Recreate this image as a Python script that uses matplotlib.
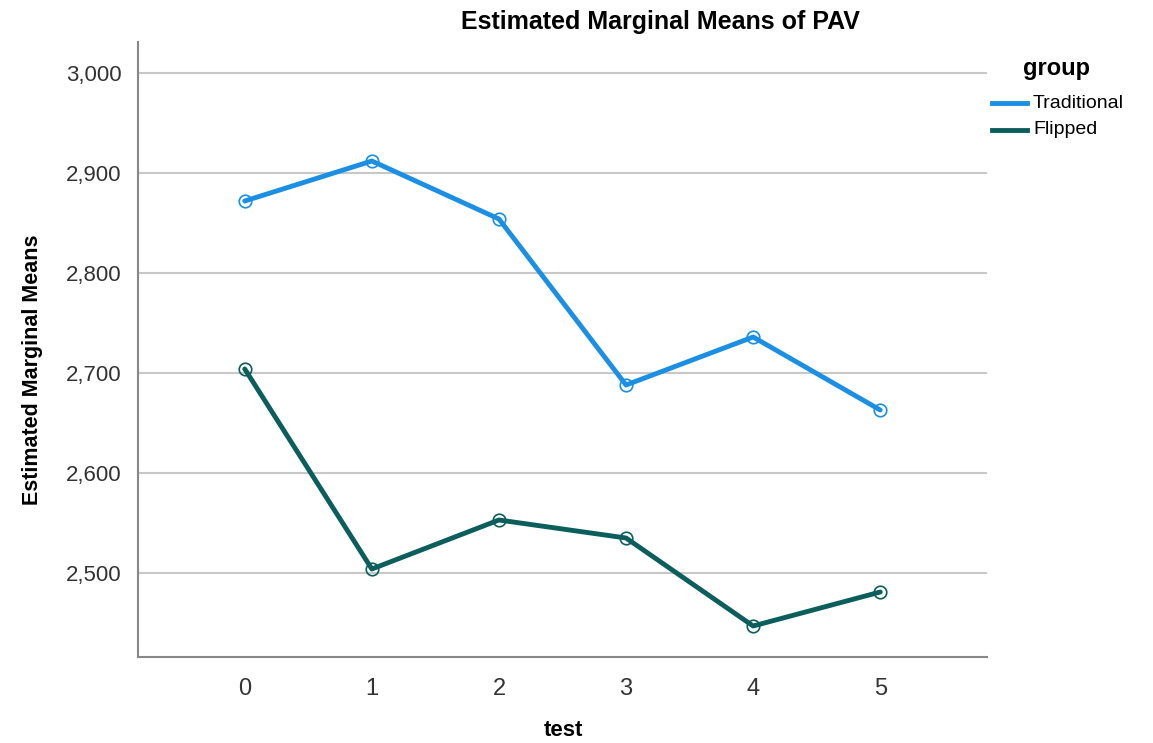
import matplotlib
matplotlib.use("Agg")
import matplotlib.pyplot as plt
from matplotlib.ticker import FuncFormatter

tests = [0, 1, 2, 3, 4, 5]
traditional = [2872, 2912, 2854, 2688, 2736, 2663]
flipped = [2704, 2504, 2553, 2535, 2447, 2481]
series_names = ["Traditional", "Flipped"]
y_ticks = [2500, 2600, 2700, 2800, 2900, 3000]

plt.rcParams["font.family"] = ["Liberation Sans", "DejaVu Sans"]

BLUE = "#1b8fe3"
TEAL = "#0b5e5b"

fig = plt.figure(figsize=(11.53, 7.43), dpi=100)
ax = fig.add_axes([138 / 1153, 1 - 657 / 743, (987 - 138) / 1153, (657 - 42) / 743])

for vals, color, name in zip([traditional, flipped], [BLUE, TEAL], series_names):
    ax.plot(tests, vals, color=color, lw=3.5, marker="o", ms=9,
            mfc="none", mec=color, mew=1.2, label=name,
            solid_capstyle="round")

ax.set_xlim(-0.84, 5.84)
ax.set_ylim(2416, 3031)
ax.set_xticks(tests)
ax.set_yticks(y_ticks)
ax.yaxis.set_major_formatter(FuncFormatter(lambda v, p: f"{int(v):,}"))
ax.tick_params(length=0, labelsize=16, colors="#333333", pad=12)
ax.tick_params(axis="x", labelsize=17, pad=15)
ax.grid(axis="y", color="#c8c8c8", lw=1.5)
ax.set_axisbelow(True)
for s in ["top", "right"]:
    ax.spines[s].set_visible(False)
for s in ["left", "bottom"]:
    ax.spines[s].set_color("#888888")
    ax.spines[s].set_linewidth(1.5)

fig.text(660 / 1153, 1 - 22 / 743, "Estimated Marginal Means of PAV",
         ha="center", va="center", fontsize=18, fontweight="bold")
fig.text(563 / 1153, 1 - 731 / 743, "test", ha="center", va="center",
         fontsize=16, fontweight="bold")
fig.text(33 / 1153, 1 - 370 / 743, "Estimated Marginal Means", ha="center",
         va="center", rotation=90, fontsize=15.5, fontweight="bold")

fig.text(1057 / 1153, 1 - 68 / 743, "group", ha="center", va="center",
         fontsize=17, fontweight="bold")
for i, (name, color) in enumerate(zip(series_names, [BLUE, TEAL])):
    y = 1 - (103 + 27 * i) / 743
    fig.add_artist(plt.Line2D([992 / 1153, 1027 / 1153], [y, y], color=color,
                              lw=3.5, transform=fig.transFigure))
    fig.text(1033 / 1153, y, name, ha="left", va="center", fontsize=14)

fig.savefig("out.png", dpi=100, facecolor="white")
